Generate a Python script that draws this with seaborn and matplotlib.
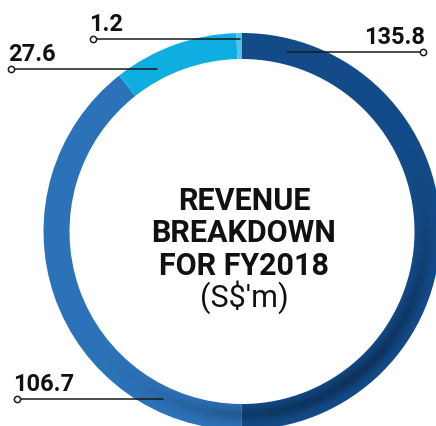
import matplotlib
matplotlib.use("Agg")
import matplotlib.pyplot as plt
from matplotlib.patches import Wedge
import numpy as np
import seaborn as sns

# revenue by segment, S$'m (clockwise from 12 o'clock)
values = [135.8, 106.7, 27.6, 1.2]
labels = ["135.8", "106.7", "27.6", "1.2"]
colors = ["#134b89", "#2c72b8", "#0faee0", "#55c5e5"]
center_lines = ["REVENUE", "BREAKDOWN", "FOR FY2018"]
unit = "(S$'m)"

sns.set_theme(style="white")
plt.rcParams["font.family"] = ["Roboto", "DejaVu Sans"]

W, H = 436, 426
fig = plt.figure(figsize=(W / 100, H / 100), dpi=100)
ax = fig.add_axes([0, 0, 1, 1])

cx, cy = 242, H - 231.5
r_out, width = 198.5, 26
r_in = r_out - width
ax.pie(values, colors=colors, startangle=90, counterclock=False,
       center=(cx, cy), radius=r_out, frame=True,
       wedgeprops=dict(width=width, linewidth=0))

# soft shadow on the lower-right part of the ring
xx, yy = np.meshgrid(np.arange(W) + 0.5, np.arange(H) + 0.5)
rr = np.hypot(xx - cx, yy - cy)
th = np.arctan2(yy - cy, xx - cx)
radial = np.exp(-((rr - (r_in + 0.4 * width)) / (0.3 * width)) ** 2)
angular = np.clip(np.cos(th + np.radians(55)), 0, 1) ** 2
shade = np.zeros((H, W, 4))
shade[..., 3] = 0.32 * radial * angular
ring = Wedge((cx, cy), r_out, 0, 360, width=width, facecolor="none",
             edgecolor="none")
ax.add_patch(ring)
img = ax.imshow(shade, extent=[0, W, 0, H], origin="lower",
                interpolation="bilinear", zorder=2)
img.set_clip_path(ring)

ax.set_xlim(0, W)
ax.set_ylim(0, H)
ax.set_aspect("equal")
ax.axis("off")

# leader lines: (label, text x, text y, ha, line x0, line x1, line y, dot x)
leaders = [
    (labels[0], 425, 44, "right", 287, 423, 51.5, 423),
    (labels[1], 13, 391, "left", 17, 163, 399, 17),
    (labels[2], 8, 61, "left", 11, 157, 69, 11),
    (labels[3], 89, 31, "left", 93, 240, 38.5, 93),
]
for txt, tx, ty, ha, x0, x1, ly, dx in leaders:
    ax.plot([x0, x1], [H - ly, H - ly], color="#1a1a1a", lw=1.1, zorder=3)
    ax.plot(dx, H - ly, marker="o", ms=4.5, mfc="white", mec="#1a1a1a",
            mew=1.1, zorder=4)
    ax.text(tx, H - ty, txt, ha=ha, va="baseline", fontsize=17,
            fontweight="bold", color="#111111")

for i, line in enumerate(center_lines):
    ax.text(244, H - (210 + 32.5 * i), line, ha="center", va="baseline",
            fontsize=22, fontweight="bold", color="#111111")
ax.text(244, H - 307, unit, ha="center", va="baseline", fontsize=22,
        color="#111111")

fig.savefig("out.png", dpi=100)
